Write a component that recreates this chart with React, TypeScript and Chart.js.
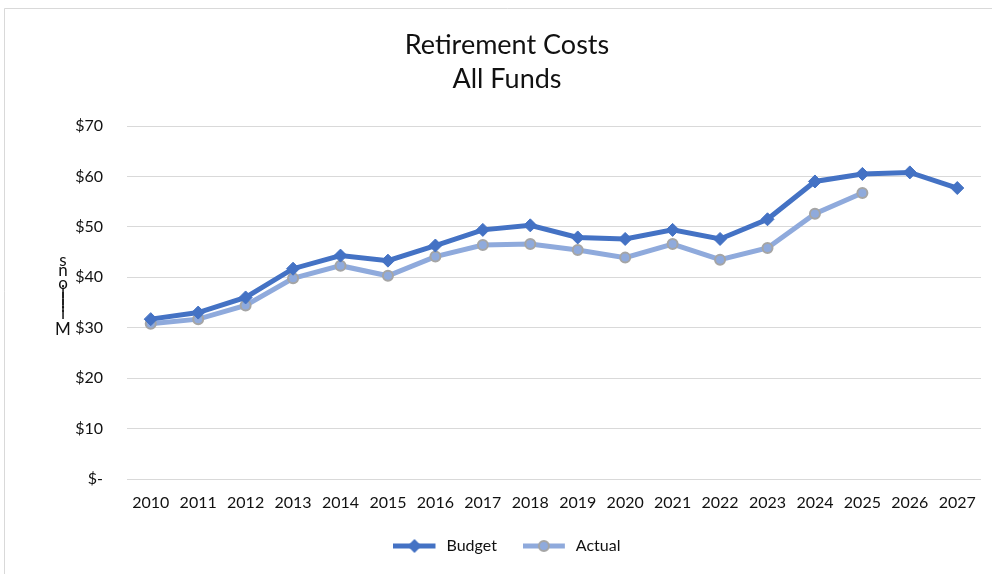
import React, { useEffect, useRef } from 'react';
import { Chart, registerables } from 'chart.js';

Chart.register(...registerables);

const years = ['2010', '2011', '2012', '2013', '2014', '2015', '2016', '2017', '2018', '2019', '2020', '2021', '2022', '2023', '2024', '2025', '2026', '2027'];
const budget = [31.7, 33.0, 36.0, 41.7, 44.3, 43.3, 46.3, 49.4, 50.3, 47.9, 47.6, 49.4, 47.6, 51.5, 59.0, 60.5, 60.8, 57.7];
const actual = [30.8, 31.7, 34.4, 39.8, 42.3, 40.3, 44.1, 46.4, 46.6, 45.4, 43.9, 46.6, 43.5, 45.8, 52.6, 56.7, null, null];
const seriesNames = ['Budget', 'Actual'];
const titleLines = ['Retirement Costs', 'All Funds'];
const yAxisTitle = 'Millions';
const yMin = 0;
const yMax = 70;
const yStep = 10;

const FONT = 'Lato, "Open Sans", sans-serif';
const TEXT = '#111111';
const BUDGET_COLOR = '#4472C4';
const ACTUAL_COLOR = '#8FAADC';
const ACTUAL_BORDER = '#A5A5A5';

function makeIcon(kind: 'diamond' | 'circle'): HTMLCanvasElement {
  const c = document.createElement('canvas');
  c.width = 45;
  c.height = 16;
  const ctx = c.getContext('2d')!;
  ctx.lineWidth = 5;
  ctx.strokeStyle = kind === 'diamond' ? BUDGET_COLOR : ACTUAL_COLOR;
  ctx.beginPath();
  ctx.moveTo(0, 8);
  ctx.lineTo(42, 8);
  ctx.stroke();
  if (kind === 'diamond') {
    ctx.fillStyle = BUDGET_COLOR;
    ctx.beginPath();
    ctx.moveTo(21, 1);
    ctx.lineTo(28, 8);
    ctx.lineTo(21, 15);
    ctx.lineTo(14, 8);
    ctx.closePath();
    ctx.fill();
  } else {
    ctx.fillStyle = ACTUAL_COLOR;
    ctx.strokeStyle = ACTUAL_BORDER;
    ctx.lineWidth = 2;
    ctx.beginPath();
    ctx.arc(21, 8, 5, 0, Math.PI * 2);
    ctx.fill();
    ctx.stroke();
  }
  return c;
}

const framePlugin = {
  id: 'frame',
  beforeDraw(chart: any) {
    const { ctx, width, height } = chart;
    ctx.save();
    ctx.fillStyle = '#ffffff';
    ctx.fillRect(0, 0, width, height);
    ctx.strokeStyle = '#d9d9d9';
    ctx.lineWidth = 1;
    ctx.beginPath();
    ctx.moveTo(0.5, height);
    ctx.lineTo(0.5, 0.5);
    ctx.lineTo(width, 0.5);
    ctx.stroke();
    ctx.restore();
  },
};

// Reproduces the upright, stacked axis title of the original picture
const stackedTitlePlugin = {
  id: 'stackedTitle',
  afterDraw(chart: any) {
    const { ctx } = chart;
    const letters = yAxisTitle.split('');
    const baselines = [327, 311, 304, 297, 290, 281, 268, 258];
    ctx.save();
    ctx.font = `17px ${FONT}`;
    ctx.fillStyle = TEXT;
    ctx.textAlign = 'center';
    ctx.textBaseline = 'alphabetic';
    letters.forEach((ch, i) => {
      ctx.fillText(ch, 59, baselines[i]);
    });
    ctx.restore();
  },
};

export default function App() {
  const ref = useRef<HTMLCanvasElement | null>(null);

  useEffect(() => {
    if (!ref.current) return;
    const icons = [makeIcon('diamond'), makeIcon('circle')];
    const chart = new Chart(ref.current, {
      type: 'line',
      data: {
        labels: years,
        datasets: [
          {
            label: seriesNames[0],
            data: budget,
            borderColor: BUDGET_COLOR,
            backgroundColor: BUDGET_COLOR,
            borderWidth: 5,
            pointStyle: 'rectRot',
            pointRadius: 6.5,
            pointBackgroundColor: BUDGET_COLOR,
            pointBorderColor: BUDGET_COLOR,
            pointBorderWidth: 1,
            tension: 0,
          },
          {
            label: seriesNames[1],
            data: actual,
            borderColor: ACTUAL_COLOR,
            backgroundColor: ACTUAL_COLOR,
            borderWidth: 5,
            pointStyle: 'circle',
            pointRadius: 5,
            pointBackgroundColor: ACTUAL_COLOR,
            pointBorderColor: ACTUAL_BORDER,
            pointBorderWidth: 2,
            tension: 0,
            spanGaps: false,
          },
        ],
      },
      options: {
        responsive: false,
        animation: false,
        devicePixelRatio: 1,
        layout: { padding: { left: 29, right: 29, top: 0, bottom: 10 } },
        plugins: {
          tooltip: { enabled: false },
          title: {
            display: true,
            text: titleLines,
            color: TEXT,
            font: { family: FONT, size: 27, weight: 'normal', lineHeight: 34 / 27 },
            padding: { top: 20, bottom: 30 },
          },
          legend: {
            display: true,
            position: 'bottom',
            labels: {
              color: TEXT,
              font: { family: FONT, size: 16 },
              usePointStyle: true,
              pointStyleWidth: 45,
              padding: 26,
              generateLabels: (c: any) => {
                const items = (Chart.defaults.plugins.legend.labels as any).generateLabels(c);
                return items.map((it: any) => ({ ...it, pointStyle: icons[it.datasetIndex], fontColor: TEXT }));
              },
            },
          },
        },
        scales: {
          x: {
            offset: true,
            grid: { display: false, drawTicks: false },
            border: { display: false },
            ticks: { color: TEXT, font: { family: FONT, size: 16 }, padding: 14, maxRotation: 0, autoSkip: false },
            afterFit: (s: any) => { s.height = 33; },
          },
          y: {
            min: yMin,
            max: yMax,
            grid: { color: '#d9d9d9', lineWidth: 1, drawTicks: false },
            border: { display: false },
            ticks: {
              stepSize: yStep,
              color: TEXT,
              font: { family: FONT, size: 16 },
              padding: 24,
              callback: (v: any) => (Number(v) === 0 ? '$-' : '$' + v),
            },
            afterFit: (s: any) => { s.width = 94; },
          },
        },
      },
      plugins: [framePlugin, stackedTitlePlugin],
    });
    return () => chart.destroy();
  }, []);

  return (
    <div style={{ position: 'fixed', left: 0, top: 0, width: 992, height: 574, overflow: 'hidden', background: '#fff' }}>
      <canvas ref={ref} width={1006} height={566} style={{ position: 'absolute', left: 4, top: 8, width: 1006, height: 566 }} />
    </div>
  );
}
